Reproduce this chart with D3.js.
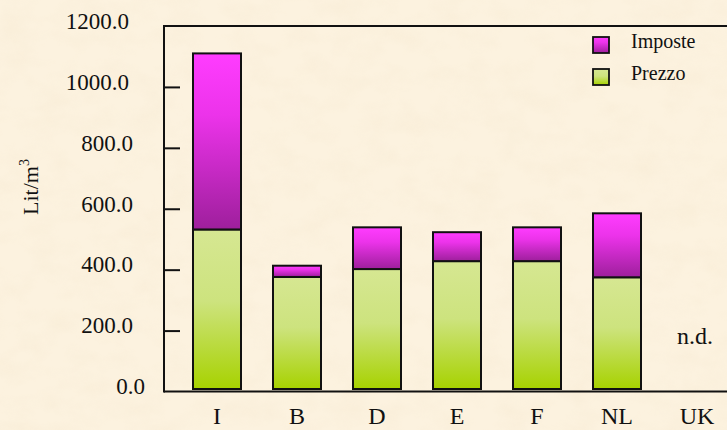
<!DOCTYPE html>
<html>
<head>
<meta charset="utf-8">
<script src="https://cdn.jsdelivr.net/npm/d3@7/dist/d3.min.js"></script>
<style>
  html, body { margin: 0; padding: 0; background: #fbf0dc; }
  svg { display: block; }
  svg text { font-family: "Liberation Serif", "Times New Roman", Times, "DejaVu Serif", serif !important; fill: #111; }
</style>
</head>
<body>
<svg id="chart" width="727" height="430" font-family="Liberation Serif, Times New Roman, serif"></svg>
<script>
// Country codes and per-litre components (Lit/m³)
const categories = ["I", "B", "D", "E", "F", "NL", "UK"];
const prezzo  = [532, 376, 402, 428, 428, 375, null];
const imposte = [578, 37, 137, 95, 111, 210, null];
const seriesNames = ["Imposte", "Prezzo"];
const yTicks = [0, 200, 400, 600, 800, 1000, 1200];
const missingLabel = "n.d.";

const W = 727, H = 430;
const plot = { left: 164, top: 26, right: 737, bottom: 391.5 };
const serif = "'Liberation Serif', 'Times New Roman', Times, serif";

const svg = d3.select("#chart");
const defs = svg.append("defs");

// Parchment texture
const paper = defs.append("filter").attr("id", "paper")
  .attr("x", 0).attr("y", 0).attr("width", "100%").attr("height", "100%");
paper.append("feTurbulence").attr("type", "fractalNoise")
  .attr("baseFrequency", "0.03 0.045").attr("numOctaves", 4).attr("seed", 11).attr("result", "noise");
paper.append("feColorMatrix").attr("in", "noise").attr("type", "matrix")
  .attr("values", "0 0 0 0 0.85  0 0 0 0 0.72  0 0 0 0 0.52  0 0 0 -1.0 0.62")
  .attr("result", "stain");
paper.append("feComposite").attr("in", "stain").attr("in2", "SourceGraphic").attr("operator", "in");

svg.append("rect").attr("width", W).attr("height", H).attr("fill", "#fcf2df");
svg.append("rect").attr("width", W).attr("height", H).attr("fill", "#fcf2df")
  .attr("filter", "url(#paper)").attr("opacity", 0.3);

// Vertical gradients for the two series
function gradient(id, stops) {
  const g = defs.append("linearGradient").attr("id", id)
    .attr("x1", 0).attr("y1", 0).attr("x2", 0).attr("y2", 1);
  stops.forEach(([o, c]) => g.append("stop").attr("offset", o).attr("stop-color", c));
}
gradient("gImposte", [[0, "#ff3cff"], [0.35, "#ec33ea"], [1, "#9e1f9c"]]);
gradient("gPrezzo",  [[0, "#d6e792"], [0.45, "#cde37e"], [1, "#a7d200"]]);
const fills = { Imposte: "url(#gImposte)", Prezzo: "url(#gPrezzo)" };

const x = d3.scaleBand().domain(categories)
  .range([177, plot.right]).paddingInner(0.4).paddingOuter(0.2);
const y = d3.scaleLinear().domain([0, 1200]).range([plot.bottom, plot.top]);
const lift = 2.5; // bars stand just above the baseline

// Stacked bars
const rows = categories.map((c, i) => ({ cat: c, Prezzo: prezzo[i], Imposte: imposte[i] }))
  .filter(d => d.Prezzo != null);
const stack = d3.stack().keys(["Prezzo", "Imposte"])(rows);
const bottomOf = d => d[0] === 0 ? y(0) - lift : y(d[0]);

svg.append("g").selectAll("g").data(stack).join("g")
  .attr("fill", s => fills[s.key])
  .selectAll("rect").data(s => s).join("rect")
  .attr("x", d => x(d.data.cat))
  .attr("width", x.bandwidth())
  .attr("y", d => y(d[1]))
  .attr("height", d => bottomOf(d) - y(d[1]))
  .attr("stroke", "#111").attr("stroke-width", 2);

// Frame lines
const frame = svg.append("g").attr("stroke", "#111").attr("stroke-width", 2).attr("fill", "none");
frame.append("line").attr("x1", plot.left).attr("x2", W).attr("y1", plot.top).attr("y2", plot.top);
frame.append("line").attr("x1", plot.left).attr("x2", W).attr("y1", plot.bottom).attr("y2", plot.bottom);
frame.append("line").attr("x1", plot.left).attr("x2", plot.left).attr("y1", plot.top - 1).attr("y2", plot.bottom + 1);

// Y axis with inward ticks
const yAxis = svg.append("g").attr("transform", `translate(${plot.left},0)`)
  .call(d3.axisLeft(y).tickValues(yTicks).tickSize(-16).tickFormat(d3.format(".1f")))
  .attr("font-family", serif);
yAxis.select(".domain").remove();
yAxis.selectAll(".tick line").attr("stroke", "#111").attr("stroke-width", 2)
  .attr("display", d => (d === 0 || d === 1200) ? "none" : null);
yAxis.selectAll(".tick text")
  .attr("font-size", 23).attr("fill", "#111").attr("font-family", serif)
  .attr("x", d => d === 0 ? -19 : (d >= 1000 ? -35 : -31))
  .attr("dy", "0.1em")
  .attr("text-anchor", "end");

// X axis labels
const xAxis = svg.append("g").attr("transform", `translate(0,${plot.bottom})`)
  .call(d3.axisBottom(x).tickSize(0))
  .attr("font-family", serif);
xAxis.select(".domain").remove();
xAxis.selectAll(".tick text").attr("font-size", 24).attr("fill", "#111").attr("font-family", serif)
  .attr("y", 32).attr("dy", 0);

// Missing data note
categories.forEach((c, i) => {
  if (prezzo[i] == null) {
    svg.append("text").attr("x", x(c) + x.bandwidth() / 2 - 2).attr("y", y(0) - 48)
      .attr("text-anchor", "middle").attr("font-size", 24).attr("font-family", serif)
      .text(missingLabel);
  }
});

// Y axis title
const title = svg.append("text").attr("transform", "translate(38,187) rotate(-90)")
  .attr("text-anchor", "middle").attr("font-size", 22).attr("font-family", serif);
title.append("tspan").text("Lit/m");
title.append("tspan").attr("font-size", 14).attr("dy", -9).text("3");

// Legend
const legend = svg.append("g").attr("transform", "translate(593,37)");
seriesNames.forEach((name, i) => {
  const g = legend.append("g").attr("transform", `translate(0,${i * 32})`);
  g.append("rect").attr("width", 16).attr("height", 16)
    .attr("fill", fills[name]).attr("stroke", "#111").attr("stroke-width", 1.8);
  g.append("text").attr("x", 38).attr("y", 11).attr("font-size", 20).attr("font-family", serif)
    .text(name);
});
</script>
</body>
</html>
